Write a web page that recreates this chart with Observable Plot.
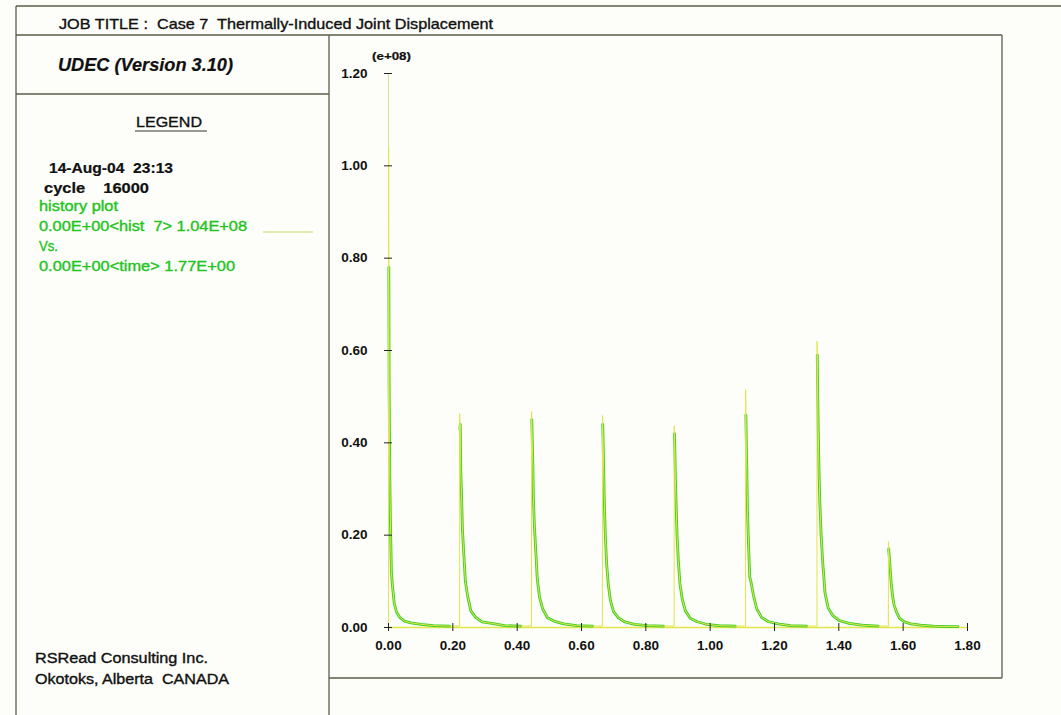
<!DOCTYPE html>
<html>
<head>
<meta charset="utf-8">
<script src="https://cdn.jsdelivr.net/npm/d3@7"></script>
<script src="https://cdn.jsdelivr.net/npm/@observablehq/plot@0.6"></script>
<style>
  html, body { margin: 0; padding: 0; background: #fdfdf9; }
  #chart { position: relative; width: 1061px; height: 715px; overflow: hidden; }
  svg text { white-space: pre; }
</style>
</head>
<body>
<div id="chart"></div>
<script>
// ---- data (values in units of e+08) ----
const spikeTimes = [0, 0.221, 0.4445, 0.665, 0.888, 1.110, 1.332, 1.554];
const offsets = [0, 0.0003, 0.001, 0.002, 0.004, 0.006, 0.009, 0.013, 0.018, 0.025, 0.035, 0.05, 0.07, 0.1, 0.14, 0.19];
const spike1 = [0.000, 1.040, 0.780, 0.520, 0.330, 0.230, 0.120, 0.085, 0.052, 0.033, 0.022, 0.014, 0.010, 0.007, 0.004, 0.003];
const spike2 = [0.003, 0.463, 0.430, 0.440, 0.330, 0.290, 0.210, 0.160, 0.100, 0.068, 0.036, 0.022, 0.012, 0.009, 0.004, 0.003];
const spike3 = [0.003, 0.468, 0.450, 0.420, 0.360, 0.280, 0.220, 0.170, 0.105, 0.066, 0.040, 0.021, 0.014, 0.008, 0.004, 0.003];
const spike4 = [0.003, 0.459, 0.440, 0.410, 0.340, 0.270, 0.200, 0.140, 0.095, 0.058, 0.034, 0.021, 0.012, 0.007, 0.004, 0.003];
const spike5 = [0.003, 0.437, 0.420, 0.390, 0.320, 0.270, 0.200, 0.145, 0.095, 0.062, 0.036, 0.020, 0.013, 0.007, 0.004, 0.003];
const spike6 = [0.003, 0.515, 0.460, 0.420, 0.340, 0.250, 0.185, 0.110, 0.095, 0.068, 0.040, 0.022, 0.013, 0.008, 0.004, 0.003];
const spike7 = [0.003, 0.620, 0.590, 0.520, 0.430, 0.350, 0.270, 0.200, 0.140, 0.075, 0.042, 0.025, 0.015, 0.009, 0.005, 0.003];
const spike8 = [0.003, 0.186, 0.170, 0.160, 0.145, 0.123, 0.095, 0.068, 0.048, 0.034, 0.020, 0.012, 0.008, 0.005, 0.003, 0.002];
const spikes = [spike1, spike2, spike3, spike4, spike5, spike6, spike7, spike8];
const tailTime = 1.77, tailValue = 0.002;

const yTicks = [0, 0.2, 0.4, 0.6, 0.8, 1.0, 1.2];
const xTicks = [0, 0.2, 0.4, 0.6, 0.8, 1.0, 1.2, 1.4, 1.6, 1.8];

// ---- table built from the arrays ----
const rows = [];
spikes.forEach((vals, s) => {
  vals.forEach((v, j) => rows.push({t: spikeTimes[s] + offsets[j], v, s, j}));
});
rows.push({t: tailTime, v: tailValue, s: 7, j: 99});
const decay = rows.filter(d => d.j >= 2);

const FONT = "'Liberation Sans', Arial, sans-serif";
const YELLOW = "#e2e64a";
const GREEN = "#3ccf2a";

const plot = Plot.plot({
  width: 1061,
  height: 715,
  marginLeft: 388,
  marginRight: 94,
  marginTop: 73,
  marginBottom: 88,
  style: {background: "transparent", fontFamily: FONT},
  x: {domain: [0, 1.8]},
  y: {domain: [0, 1.2]},
  marks: [
    Plot.ruleX([0], {y1: 0, y2: 1.2, stroke: "#d8e48a", strokeWidth: 1}),
    Plot.ruleY([0], {x1: 0, x2: 1.8, stroke: YELLOW, strokeWidth: 1.5}),
    Plot.line(decay, {x: "t", y: "v", z: "s", stroke: GREEN, strokeWidth: 2.8, curve: "linear"}),
    Plot.line(rows, {x: "t", y: "v", stroke: YELLOW, strokeWidth: 1, curve: "linear"}),
    Plot.axisY(yTicks, {
      tickSize: 8, dx: 4, tickPadding: 17, tickFormat: d3.format(".2f"),
      fontSize: 13.5, fontWeight: "bold", fill: "#111", stroke: "#222", label: null
    }),
    Plot.axisX(xTicks, {
      tickSize: 8, dy: -4, tickPadding: 9, tickFormat: d3.format(".2f"),
      fontSize: 13.5, fontWeight: "bold", fill: "#111", stroke: "#222", label: null
    })
  ]
});
document.getElementById("chart").appendChild(plot);

// ---- frame, header and legend panel ----
const svg = d3.select(plot);
const frame = svg.append("g").attr("stroke", "#5c5c4a").attr("stroke-width", 1.3).attr("fill", "none");
const seg = (x1, y1, x2, y2) => frame.append("line").attr("x1", x1).attr("y1", y1).attr("x2", x2).attr("y2", y2);
seg(16, 6, 1061, 6);
seg(16, 35, 1002, 35);
seg(16, 6, 16, 715);
seg(329, 35, 329, 715);
seg(16, 94, 329, 94);
seg(1002, 35, 1002, 678);
seg(329, 678, 1002, 678);

const txt = (s, x, y, opts = {}) => {
  const fill = opts.fill || "#111";
  const t = svg.append("text")
    .attr("x", x).attr("y", y)
    .attr("text-anchor", "start")
    .attr("font-family", FONT)
    .attr("font-size", opts.size || 14)
    .attr("font-weight", opts.weight || "normal")
    .attr("font-style", opts.style || "normal")
    .attr("fill", fill)
    .attr("stroke", fill)
    .attr("stroke-width", opts.weight === "bold" ? 0.2 : 0.35)
    .text(s);
  if (opts.len) t.attr("textLength", opts.len).attr("lengthAdjust", "spacingAndGlyphs");
  return t;
};
txt("JOB TITLE :  Case 7  Thermally-Induced Joint Displacement", 59, 29, {size: 15, len: 434});
txt("UDEC (Version 3.10)", 58, 71, {size: 19, weight: "bold", style: "italic", len: 175});
txt("LEGEND", 136, 127, {size: 15, len: 66});
svg.append("line").attr("x1", 135).attr("x2", 207).attr("y1", 131).attr("y2", 131)
  .attr("stroke", "#333").attr("stroke-width", 1.2);
txt("14-Aug-04  23:13", 49, 173, {size: 14, weight: "bold", len: 124});
txt("cycle    16000", 44, 193, {size: 14, weight: "bold", len: 105});
const G = "#22c41e";
txt("history plot", 39, 211, {size: 14, fill: G, len: 79});
txt("0.00E+00<hist  7> 1.04E+08", 39, 231, {size: 14, fill: G, len: 208});
txt("Vs.", 39, 251, {size: 14, fill: G, len: 19});
txt("0.00E+00<time> 1.77E+00", 39, 271, {size: 14, fill: G, len: 196});
svg.append("line").attr("x1", 263).attr("x2", 313).attr("y1", 232).attr("y2", 232)
  .attr("stroke", "#d4e690").attr("stroke-width", 1.5);
txt("RSRead Consulting Inc.", 35, 663, {size: 14, len: 173});
txt("Okotoks, Alberta  CANADA", 35, 684, {size: 14, len: 194});
txt("(e+08)", 372, 60, {size: 11, weight: "bold", len: 39});
</script>
</body>
</html>
